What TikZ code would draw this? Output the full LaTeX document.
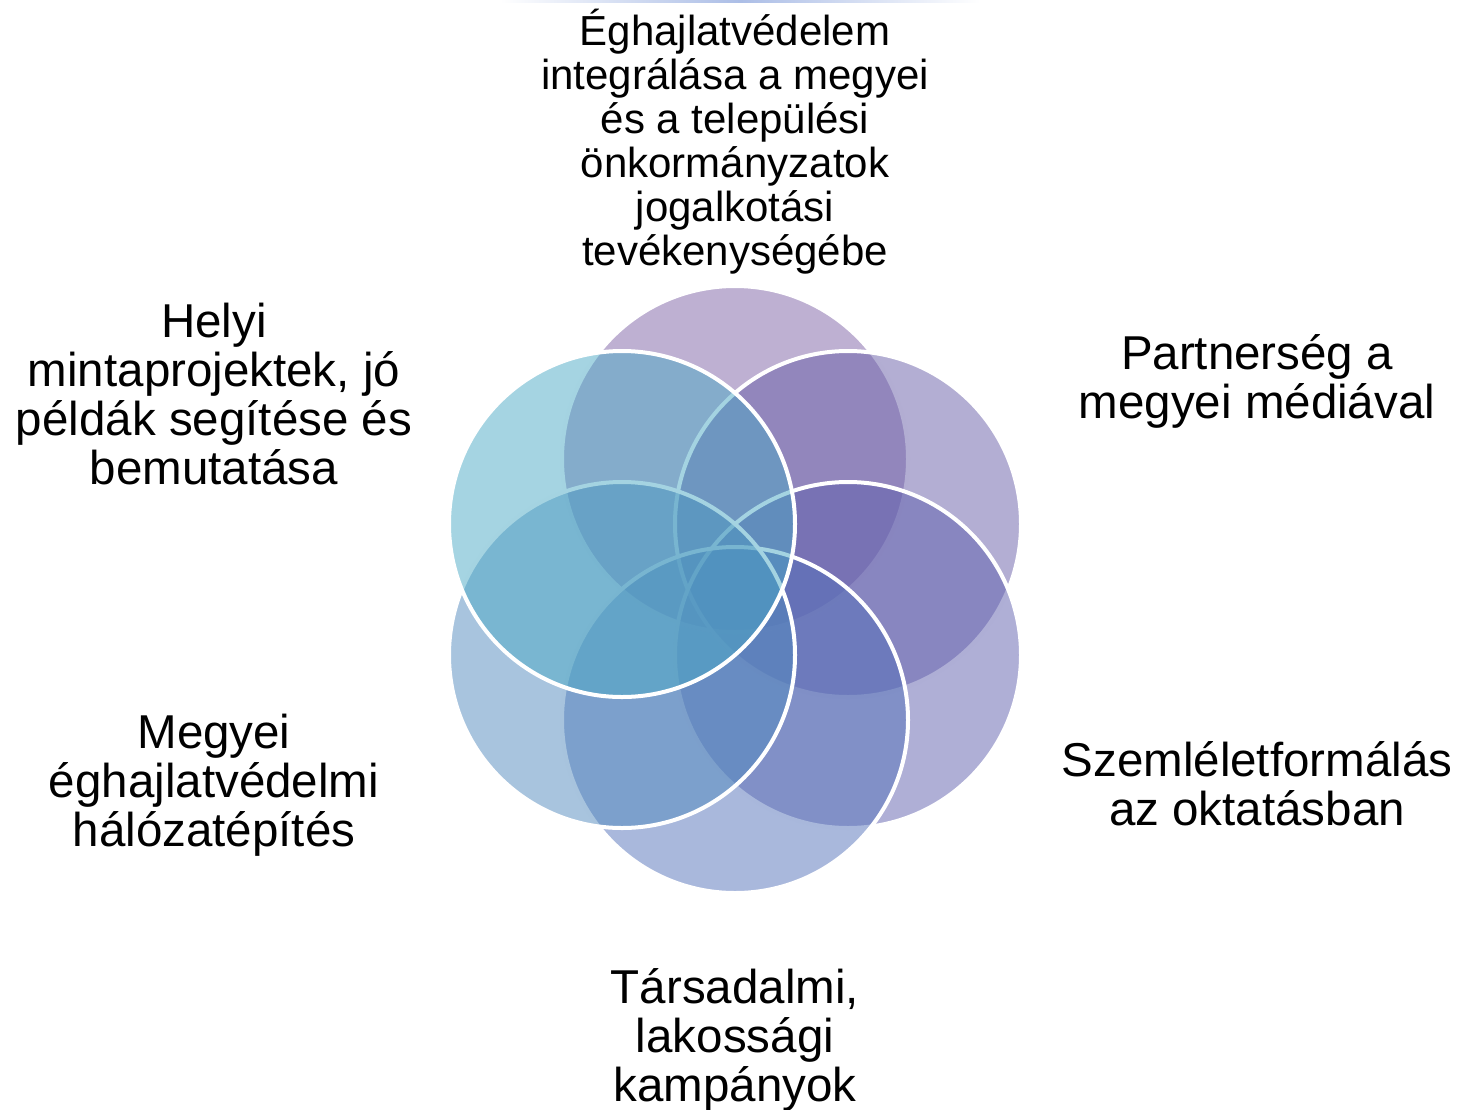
\documentclass[tikz,border=0pt]{standalone}
\usepackage{fontspec}
\setmainfont{Liberation Sans}
\usepackage{tikz}

\definecolor{topc}{RGB}{125,97,165}
\definecolor{urc}{RGB}{103,93,167}
\definecolor{lrc}{RGB}{95,95,173}
\definecolor{botc}{RGB}{83,113,185}
\definecolor{llc}{RGB}{81,137,189}
\definecolor{ulc}{RGB}{75,169,197}
\definecolor{edgec}{RGB}{70,110,200}

\begin{document}
\begin{tikzpicture}[x=0.5pt,y=-0.5pt]
\tikzstyle{petal}=[circle, draw=white, line width=2pt, minimum size=173pt, inner sep=0pt, fill opacity=0.5]
\tikzstyle{lbl}=[align=center, inner sep=0pt, font=\fontsize{23.75}{24.5}\selectfont]
\useasboundingbox (0,0) rectangle (1461,1109);
% faint edge at the top
\shade [left color=white, right color=white, middle color=edgec!45] (500,0) rectangle (980,2);
% the six petals
\node [petal, fill=topc] (ptop) at (735,459) {};
\node [petal, fill=urc] (pur) at (848,524) {};
\node [petal, fill=lrc] (plr) at (848,655) {};
\node [petal, fill=botc] (pbot) at (735,720) {};
\node [petal, fill=llc] (pll) at (622,655) {};
\node [petal, fill=ulc] (pul) at (622,524) {};
% labels
\node [lbl, font=\fontsize{21}{22}\selectfont] (ltop) at (735,142) {Éghajlatvédelem\\integrálása a megyei\\és a települési\\önkormányzatok\\jogalkotási\\tevékenységébe};
\node [lbl] (lur) at (1257,381) {Partnerség a\\megyei médiával};
\node [lbl] (llr) at (1257,784) {Szemléletformálás\\az oktatásban};
\node [lbl] (lbot) at (735,1040) {Társadalmi,\\lakossági\\kampányok};
\node [lbl] (lll) at (214,785) {Megyei\\éghajlatvédelmi\\hálózatépítés};
\node [lbl] (lul) at (214,394) {Helyi\\mintaprojektek, jó\\példák segítése és\\bemutatása};
\end{tikzpicture}
\end{document}
